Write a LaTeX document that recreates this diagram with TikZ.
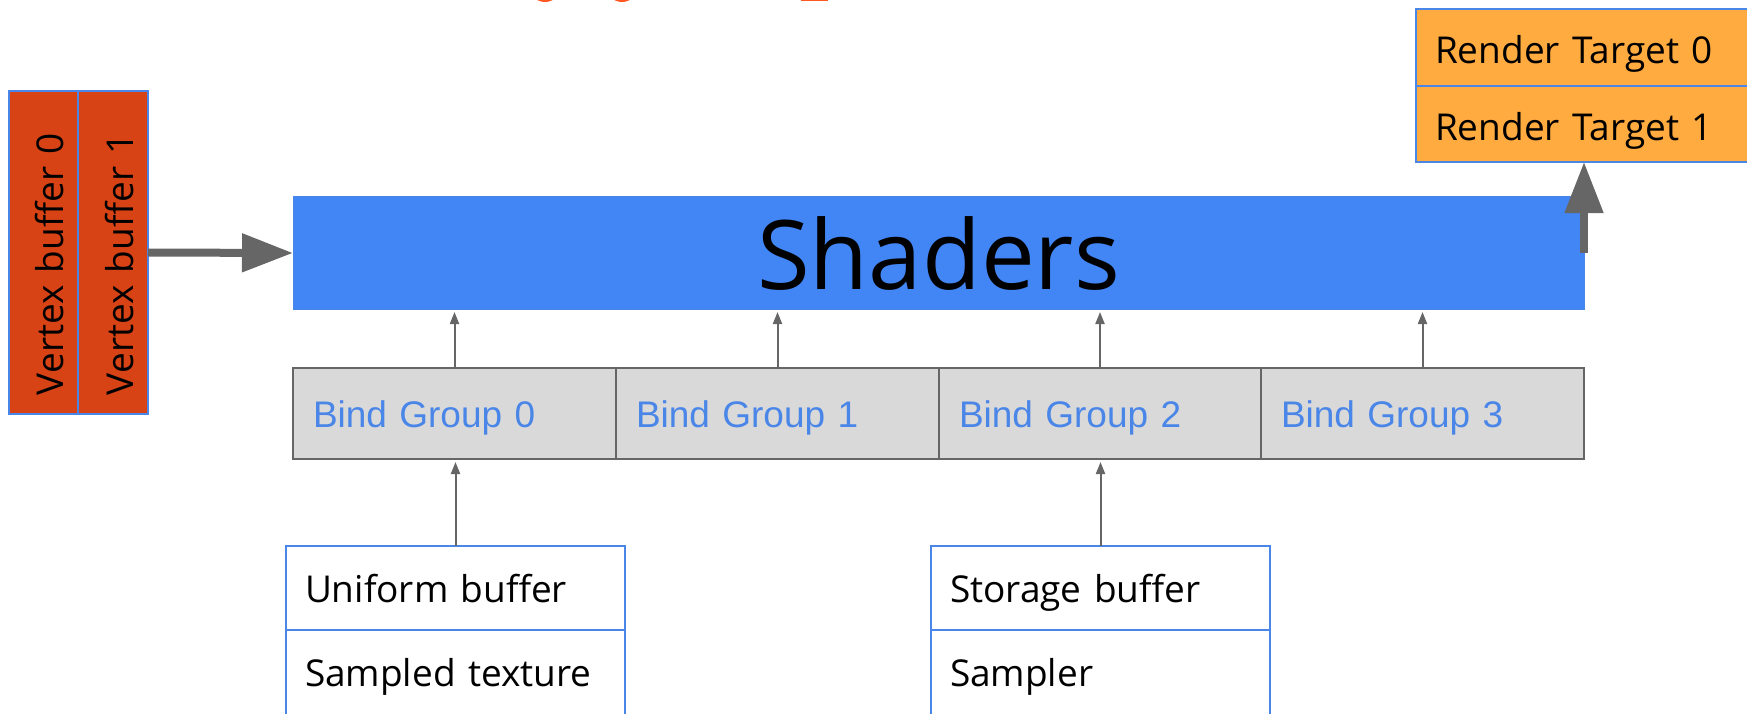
\documentclass[tikz,border=0pt]{standalone}
\usepackage{fontspec}
\setmainfont{Open Sans}
\newfontfamily\arialfont{Liberation Sans}
\usetikzlibrary{arrows.meta}
\definecolor{vbfill}{HTML}{D84315}
\definecolor{rtfill}{HTML}{FFAB40}
\definecolor{shfill}{HTML}{4285F4}
\definecolor{bgfill}{HTML}{D9D9D9}
\definecolor{bgborder}{HTML}{666666}
\definecolor{bgtext}{HTML}{4A86E8}
\definecolor{cellblue}{HTML}{4A86E8}
\definecolor{arrowgray}{HTML}{666666}
\definecolor{titleorange}{HTML}{FF5722}
\tikzset{
  cell/.style={rectangle, draw=cellblue, line width=1.5pt, inner xsep=19pt, inner ysep=0pt,
    outer sep=0pt, align=left, font=\fontsize{37}{44}\selectfont, anchor=north west,
    text height=28pt, text depth=0pt},
  bgcell/.style={rectangle, draw=bgborder, fill=bgfill, line width=2pt, inner xsep=20pt, inner ysep=0pt,
    outer sep=0pt, align=left, text=bgtext, font=\arialfont\fontsize{37}{44}\selectfont,
    anchor=north west, minimum height=91pt, text width=283pt, text height=28pt, text depth=0pt},
  bigarrow/.style={draw=arrowgray, line width=8pt, -{Triangle[length=51pt,width=37pt]}},
  smallarrow/.style={draw=arrowgray, line width=2pt, -{Triangle[length=12pt,width=9pt]}, shorten >=3pt}
}
\begin{document}
\begin{tikzpicture}[x=1pt,y=-1pt]
\useasboundingbox (0,0) rectangle (1747,714);
\clip (0,0) rectangle (1747,714);
% clipped title fragments
\fill[titleorange] (545,-12) ellipse [x radius=15pt, y radius=14pt];
\fill[titleorange] (622,-12) ellipse [x radius=15pt, y radius=14pt];
\fill[titleorange] (801,-5) rectangle (828,1.5);
% vertex buffers
\node[cell, fill=vbfill, anchor=center, rotate=90, text width=285pt, minimum height=69pt, text height=40pt] (vb0) at (43.5,252.5) {Vertex buffer 0};
\node[cell, fill=vbfill, anchor=center, rotate=90, text width=285pt, minimum height=70pt, text height=40pt] (vb1) at (113,252.5) {Vertex buffer 1};
% shaders
\node[rectangle, fill=shfill, draw=cellblue, line width=1pt, minimum width=1291pt, minimum height=112pt, inner sep=0pt, outer sep=0pt,
  font=\fontsize{96}{110}\selectfont] (sh) at (938.5,253) {Shaders};
% render targets
\node[cell, fill=rtfill, text width=306pt, minimum height=77pt, text height=33pt] (rt0) at (1416,9) {Render Target 0};
\node[cell, fill=rtfill, text width=306pt, minimum height=76pt, text height=33pt] (rt1) at (1416,86) {Render Target 1};
% bind groups
\node[bgcell, text width=283pt] (bg0) at (293,368) {Bind Group 0};
\node[bgcell, text width=283pt] (bg1) at (616,368) {Bind Group 1};
\node[bgcell, text width=282pt] (bg2) at (939,368) {Bind Group 2};
\node[bgcell, text width=283pt] (bg3) at (1261,368) {Bind Group 3};
% resources
\node[cell, text width=301pt, minimum height=84pt] (ub) at (286,546) {Uniform buffer};
\node[cell, text width=301pt, minimum height=90pt, text height=22pt] (st) at (286,630) {Sampled texture};
\node[cell, text width=301pt, minimum height=84pt] (sb) at (931,546) {Storage buffer};
\node[cell, text width=301pt, minimum height=90pt, text height=22pt] (sp) at (931,630) {Sampler};
% arrows
\draw[bigarrow] (vb1.south) -- (sh.west);
\draw[bigarrow] (sh.east) -- (sh.east |- rt1.south);
\foreach \b in {bg0,bg1,bg2,bg3} {
  \draw[smallarrow] (\b.north) -- (\b.north |- sh.south);
}
\draw[smallarrow] (ub.north) -- (ub.north |- bg0.south);
\draw[smallarrow] (sb.north) -- (sb.north |- bg2.south);
\end{tikzpicture}
\end{document}
